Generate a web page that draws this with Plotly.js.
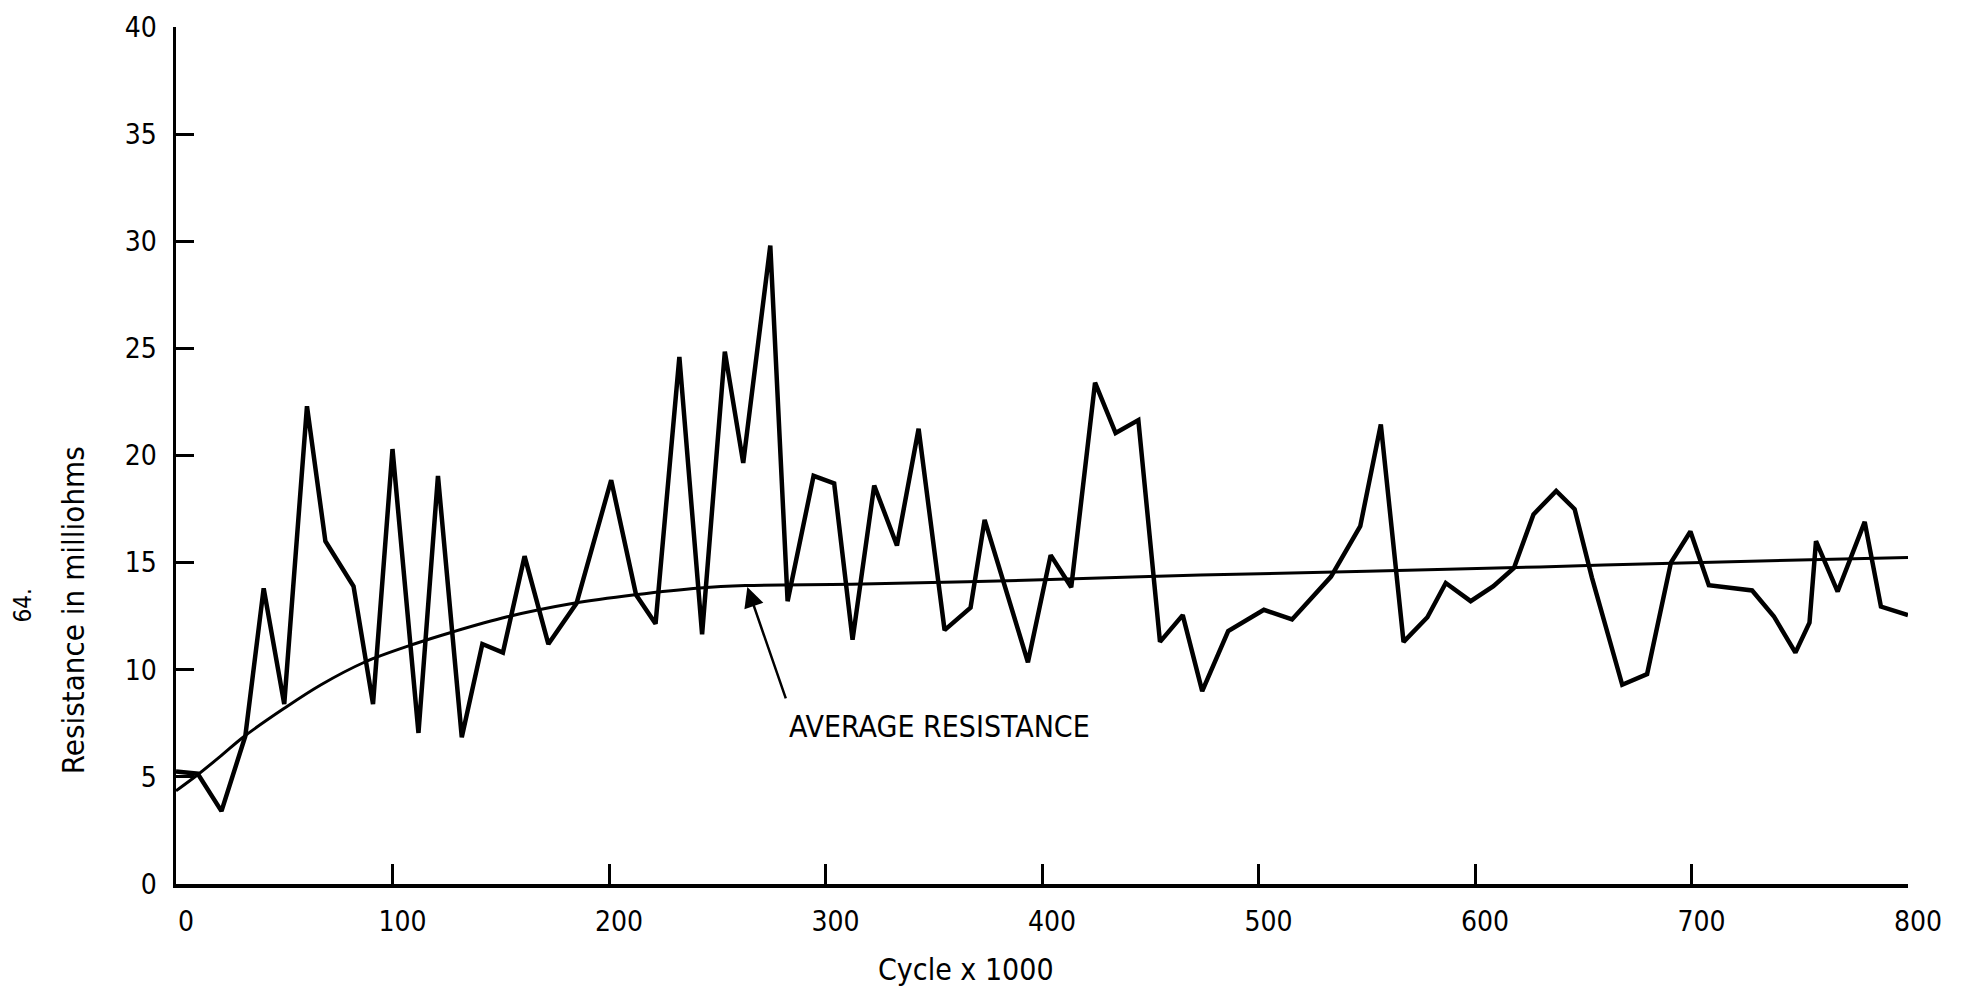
<!DOCTYPE html>
<html>
<head>
<meta charset="utf-8">
<script src="https://cdn.plot.ly/plotly-3.0.1.min.js"></script>
<style>
  html, body { margin: 0; padding: 0; background: #ffffff; }
  #chart { width: 1976px; height: 995px; }
</style>
</head>
<body>
<div id="chart"></div>
<script>
// Measured resistance (milliohms) vs cycles (x 1000)
var cycles = [0, 10, 21, 32, 40.5, 50, 60.5, 69, 82, 91, 100, 112, 121, 132, 141.5, 151, 161, 172, 185, 201,
  212.5, 221.5, 232.5, 243, 253.5, 262, 274.5, 282.5, 294.5, 304, 312.5, 322.5, 333, 343, 355, 367, 373.5,
  393.5, 404, 413.5, 424.5, 434, 444.5, 454.5, 465, 474, 486, 502.5, 515.5, 533.5, 547, 556.5, 567, 578,
  586.5, 598, 608.5, 618, 627, 637.5, 646, 654, 668, 679.5, 690.5, 699.5, 708, 728, 738, 748, 754.5, 757.5,
  767.5, 780, 787.5, 800];
var resistance = [5.25, 5.15, 3.4, 6.9, 13.8, 8.4, 22.3, 16.0, 13.9, 8.4, 20.3, 7.05, 19.05, 6.85, 11.2, 10.8,
  15.3, 11.2, 13.1, 18.85, 13.5, 12.15, 24.6, 11.65, 24.85, 19.65, 29.8, 13.2, 19.05, 18.7, 11.4, 18.6, 15.8,
  21.25, 11.85, 12.9, 17.0, 10.35, 15.35, 13.85, 23.4, 21.05, 21.65, 11.3, 12.55, 9.0, 11.8, 12.8, 12.35,
  14.35, 16.7, 21.45, 11.3, 12.45, 14.05, 13.2, 13.9, 14.75, 17.25, 18.35, 17.5, 14.3, 9.3, 9.8, 15.0, 16.45,
  13.95, 13.7, 12.5, 10.8, 12.2, 16.0, 13.65, 16.9, 12.95, 12.55];

// Average resistance curve
var avgCycles = [0, 10, 21, 31, 50, 67, 87, 110, 127, 153, 183, 212, 242, 263, 317, 400, 473, 550, 630, 700, 800];
var avgResistance = [4.35, 5.1, 6.0, 6.85, 8.2, 9.3, 10.35, 11.2, 11.74, 12.47, 13.09, 13.5, 13.82, 13.93,
  14.0, 14.2, 14.42, 14.6, 14.8, 15.0, 15.24];

var xTicks = [0, 100, 200, 300, 400, 500, 600, 700, 800];
var yTicks = [0, 5, 10, 15, 20, 25, 30, 35, 40];

var FONT = "'Liberation Sans Narrow', 'DejaVu Sans Condensed', 'Liberation Sans', sans-serif";

var traces = [
  {
    x: avgCycles, y: avgResistance, type: 'scatter', mode: 'lines',
    line: { color: '#000000', width: 3, shape: 'spline', smoothing: 1 },
    hoverinfo: 'skip', showlegend: false
  },
  {
    x: cycles, y: resistance, type: 'scatter', mode: 'lines',
    line: { color: '#000000', width: 4.5 },
    showlegend: false
  }
];

var layout = {
  width: 1976, height: 995,
  paper_bgcolor: '#ffffff', plot_bgcolor: '#ffffff',
  margin: { l: 176, r: 68, t: 27, b: 111, pad: 0 },
  showlegend: false,
  font: { family: FONT, color: '#000000', size: 28 },
  xaxis: {
    range: [0, 800], tickvals: xTicks, ticktext: xTicks.map(String),
    ticks: 'inside', ticklen: 20, tickwidth: 3, tickcolor: '#000000',
    showline: true, linewidth: 3.5, linecolor: '#000000',
    showgrid: false, zeroline: false, ticklabelstandoff: 10, ticklabelshift: 10,
    tickfont: { family: FONT, size: 28, color: '#000000' }
  },
  yaxis: {
    range: [0, 40], tickvals: yTicks, ticktext: yTicks.map(String),
    ticks: 'inside', ticklen: 18, tickwidth: 3, tickcolor: '#000000',
    showline: true, linewidth: 3.5, linecolor: '#000000',
    showgrid: false, zeroline: false, ticklabelstandoff: 10,
    tickfont: { family: FONT, size: 28, color: '#000000' }
  },
  annotations: [
    {
      text: 'Resistance in milliohms', xref: 'paper', yref: 'paper',
      x: -0.0594, y: 0.3197, xanchor: 'center', yanchor: 'middle',
      textangle: -90, showarrow: false,
      font: { family: FONT, size: 31, color: '#000000' }
    },
    {
      text: '64.', xref: 'paper', yref: 'paper',
      x: -0.0883, y: 0.325, xanchor: 'center', yanchor: 'middle',
      textangle: -90, showarrow: false,
      font: { family: FONT, size: 24, color: '#000000' }
    },
    {
      text: 'Cycle x 1000', xref: 'paper', yref: 'paper',
      x: 0.4562, y: -0.1003, xanchor: 'center', yanchor: 'middle',
      showarrow: false,
      font: { family: FONT, size: 30, color: '#000000' }
    },
    {
      text: 'AVERAGE RESISTANCE', xref: 'x', yref: 'y',
      x: 282.3, y: 7.37, xanchor: 'left', yanchor: 'middle',
      showarrow: false,
      font: { family: FONT, size: 30, color: '#000000' }
    },
    {
      text: '', xref: 'x', yref: 'y', x: 263.9, y: 13.86,
      axref: 'x', ayref: 'y', ax: 281.9, ay: 8.59,
      showarrow: true, arrowhead: 2, arrowsize: 1.6, arrowwidth: 2.5,
      arrowcolor: '#000000', standoff: 0, startstandoff: 0
    }
  ]
};

Plotly.newPlot('chart', traces, layout, { displayModeBar: false, staticPlot: true });
</script>
</body>
</html>
